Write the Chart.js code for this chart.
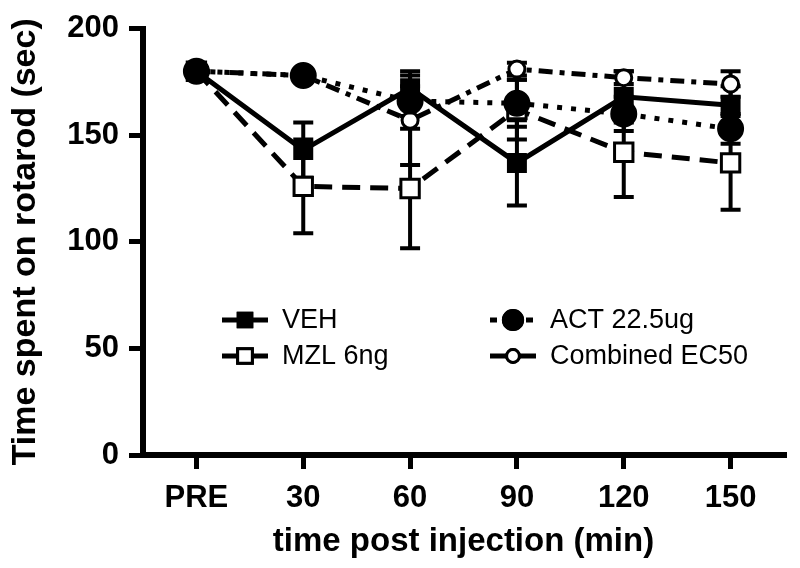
<!DOCTYPE html>
<html>
<head>
<meta charset="utf-8">
<script src="https://cdn.jsdelivr.net/npm/chart.js@4/dist/chart.umd.min.js"></script>
<style>
  html, body { margin: 0; padding: 0; background: #fff; }
  #wrap { width: 800px; height: 568px; }
</style>
</head>
<body>
<div id="wrap"><canvas id="rotarod" width="800" height="568"></canvas></div>
<script>
// values (sec), error = SEM
const timeLabels = ["PRE", "30", "60", "90", "120", "150"];
const vehMean  = [180, 143, 172, 137, 168, 164];
const vehErr   = [0, 13, 8, 20, 12, 9];
const mzlMean  = [180, 126, 125, 162, 142, 137];
const mzlErr   = [0, 22, 28, 14, 21, 22];
const actMean  = [180, 178, 166, 165, 160, 153];
const actErr   = [0, 3, 7, 11, 8, 7];
const combMean = [180, 178, 157, 181, 177, 174];
const combErr  = [0, 2, 21, 3, 3, 6];
const yTicks = [0, 50, 100, 150, 200];

const pts = arr => arr.map((v, i) => ({ x: i, y: v }));

function series(label, mean, err, dash, style, radius, fill) {
  return {
    label, data: pts(mean), errors: err,
    borderColor: "#000", borderWidth: 5, borderDash: dash,
    pointStyle: style, pointRadius: radius, pointHoverRadius: radius,
    pointBackgroundColor: fill, pointBorderColor: "#000", pointBorderWidth: 3,
    fill: false, tension: 0,
  };
}

// first dataset is drawn on top
const datasets = [
  series("VEH", vehMean, vehErr, [], "rect", 12, "#000"),
  series("ACT 22.5ug", actMean, actErr, [5, 9], "circle", 12, "#000"),
  series("Combined EC50", combMean, combErr, [14, 7, 5, 7], "circle", 8, "#fff"),
  series("MZL 6ng", mzlMean, mzlErr, [18, 10], "rect", 13, "#fff"),
];

const errorBars = {
  id: "errorBars",
  beforeDatasetsDraw(chart) {
    const { ctx } = chart, y = chart.scales.y;
    ctx.save();
    ctx.strokeStyle = "#000";
    ctx.lineWidth = 4;
    chart.data.datasets.forEach((ds, i) => {
      chart.getDatasetMeta(i).data.forEach((p, j) => {
        const e = ds.errors[j];
        if (!e) return;
        const m = ds.data[j].y;
        const top = y.getPixelForValue(m + e), bot = y.getPixelForValue(m - e);
        ctx.beginPath();
        ctx.moveTo(p.x, top); ctx.lineTo(p.x, bot);
        ctx.moveTo(p.x - 10, top); ctx.lineTo(p.x + 10, top);
        ctx.moveTo(p.x - 10, bot); ctx.lineTo(p.x + 10, bot);
        ctx.stroke();
      });
    });
    ctx.restore();
  },
};

// legend drawn inside the plot in two columns
const innerLegend = {
  id: "innerLegend",
  afterDraw(chart) {
    const { ctx } = chart;
    const spots = {
      "VEH": [222, 320], "ACT 22.5ug": [490, 320],
      "MZL 6ng": [222, 356], "Combined EC50": [490, 356],
    };
    ctx.save();
    chart.data.datasets.forEach(ds => {
      const [x, y] = spots[ds.label];
      ctx.strokeStyle = "#000";
      ctx.lineWidth = 5;
      ctx.setLineDash(ds.label === "ACT 22.5ug" ? [7, 5] : []);
      ctx.beginPath(); ctx.moveTo(x, y); ctx.lineTo(x + 46, y); ctx.stroke();
      ctx.setLineDash([]);
      ctx.fillStyle = ds.pointBackgroundColor;
      ctx.lineWidth = 3;
      Chart.helpers.drawPoint(ctx, {
        pointStyle: ds.pointStyle, radius: ds.pointRadius * 0.8, rotation: 0, borderWidth: 3,
      }, x + 23, y);
      ctx.fill(); ctx.stroke();
      ctx.fillStyle = "#000";
      ctx.font = "27px 'Liberation Sans', Arial, sans-serif";
      ctx.textBaseline = "middle";
      ctx.fillText(ds.label, x + 60, y + 1);
    });
    ctx.restore();
  },
};

const axisFont = { family: "'Liberation Sans', Arial, sans-serif", weight: "bold" };
const axisGrid = { drawOnChartArea: false, drawTicks: true, tickLength: 14, lineWidth: 5, color: "#000" };
const axisBorder = { display: true, width: 6, color: "#000" };

new Chart(document.getElementById("rotarod"), {
  type: "line",
  data: { datasets },
  plugins: [errorBars, innerLegend],
  options: {
    responsive: false,
    animation: false,
    layout: { padding: { top: 23, right: 9, left: 0, bottom: 0 } },
    plugins: { legend: { display: false }, tooltip: { enabled: false } },
    scales: {
      x: {
        type: "linear", min: -0.5, max: 5.5,
        afterBuildTicks: s => { s.ticks = timeLabels.map((_, i) => ({ value: i })); },
        afterFit: s => { s.height = 113; },
        ticks: {
          callback: v => timeLabels[v], color: "#000", padding: 11,
          font: { ...axisFont, size: 31 },
        },
        grid: axisGrid,
        border: axisBorder,
        title: {
          display: true, text: "time post injection (min)", color: "#000",
          font: { ...axisFont, size: 33 }, padding: { top: 0, bottom: 6 },
        },
      },
      y: {
        min: 0, max: 200,
        afterBuildTicks: s => { s.ticks = yTicks.map(v => ({ value: v })); },
        afterFit: s => { s.width = 143; },
        ticks: { color: "#000", padding: 10, font: { ...axisFont, size: 31 } },
        grid: axisGrid,
        border: axisBorder,
        title: {
          display: true, text: "Time spent on rotarod (sec)", color: "#000",
          font: { ...axisFont, size: 34 }, padding: { top: 5, bottom: 0 },
        },
      },
    },
  },
});
</script>
</body>
</html>
